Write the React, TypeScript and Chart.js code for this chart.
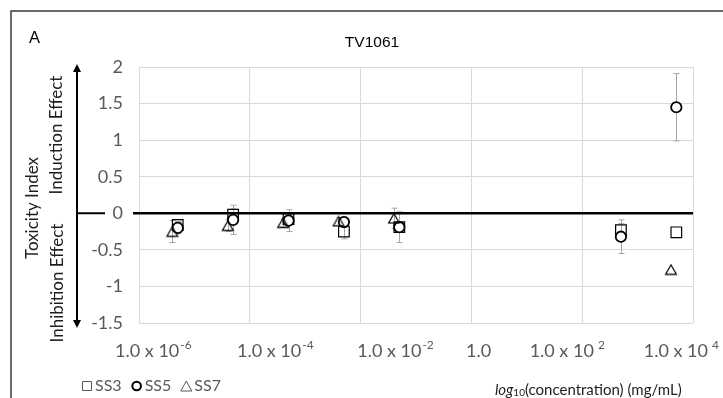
import React, { useEffect, useRef } from "react";
import { Chart, registerables } from "chart.js";

Chart.register(...registerables);

// Concentrations (mg/mL) and toxicity index per sample
const ss3Conc = [5e-6, 5e-5, 5e-4, 5e-3, 5e-2, 5e2, 5e3];
const ss3Index = [-0.16, -0.02, -0.08, -0.25, -0.19, -0.23, -0.26];
const ss3Err = [0.05, 0.08, 0.05, 0.1, 0.05, 0.09, 0];

const ss5Conc = [5e-6, 5e-5, 5e-4, 5e-3, 5e-2, 5e2, 5e3];
const ss5Index = [-0.2, -0.09, -0.1, -0.12, -0.19, -0.32, 1.45];
const ss5Err = [0.08, 0.2, 0.15, 0.07, 0.21, 0.23, 0.46];

const ss7Conc = [4e-6, 4e-5, 4e-4, 4e-3, 4e-2, 4e3];
const ss7Index = [-0.25, -0.17, -0.13, -0.11, -0.07, -0.77];
const ss7Err = [0.15, 0.08, 0.05, 0.05, 0.14, 0];

// x axis (log10 of concentration)
const xMin = -6;
const xMax = 4;
const xStep = 2;
const tickExponents = [-6, -4, -2, 0, 2, 4];
const tickLabelAt = [-5.74, -3.54, -1.37, 0.13, 1.73, 3.79];

// y axis
const yMin = -1.5;
const yMax = 2;
const yStep = 0.5;

const chartTitle = "TV1061";
const panelLetter = "A";
const yTitle = "Toxicity Index";
const upLabel = "Induction Effect";
const downLabel = "Inhibition Effect";
const seriesNames = ["SS3", "SS5", "SS7"];

const LABEL_FONT = "Lato, 'Open Sans', sans-serif";
const TITLE_FONT = "'Liberation Sans', Arial, sans-serif";
const GREY_TEXT = "#595959";
const DARK_TEXT = "#1e1e1e";

function makeTriangle(stroke: string, lw: number): HTMLCanvasElement {
  const c = document.createElement("canvas");
  c.width = 14;
  c.height = 12;
  const g = c.getContext("2d")!;
  g.strokeStyle = stroke;
  g.lineWidth = lw;
  g.lineJoin = "miter";
  g.beginPath();
  g.moveTo(7, 1.3);
  g.lineTo(12.4, 10.7);
  g.lineTo(1.6, 10.7);
  g.closePath();
  g.stroke();
  return c;
}

type Series = { conc: number[]; index: number[]; err: number[] };
const allSeries: Series[] = [
  { conc: ss3Conc, index: ss3Index, err: ss3Err },
  { conc: ss5Conc, index: ss5Index, err: ss5Err },
  { conc: ss7Conc, index: ss7Index, err: ss7Err },
];

const toPoints = (conc: number[], vals: number[]) =>
  conc.map((c, i) => ({ x: Math.log10(c), y: vals[i] }));

function drawPowerLabel(ctx: CanvasRenderingContext2D, cx: number, baseline: number, exp: number) {
  const main = exp === 0 ? "1.0" : "1.0 x 10";
  const sup = exp === 0 ? "" : exp < 0 ? String(exp) : " " + String(exp);
  ctx.font = `18px ${LABEL_FONT}`;
  const wMain = ctx.measureText(main).width;
  ctx.font = `12px ${LABEL_FONT}`;
  const wSup = sup ? ctx.measureText(sup).width + 1 : 0;
  const start = cx - (wMain + wSup) / 2;
  ctx.textAlign = "left";
  ctx.textBaseline = "alphabetic";
  ctx.fillStyle = GREY_TEXT;
  ctx.font = `18px ${LABEL_FONT}`;
  ctx.fillText(main, start, baseline);
  if (sup) {
    ctx.font = `12px ${LABEL_FONT}`;
    ctx.fillText(sup, start + wMain + 1, baseline - 8);
  }
}

const decorPlugin = {
  id: "decor",
  beforeDatasetsDraw(chart: any) {
    const { ctx } = chart;
    const x = chart.scales.x;
    const y = chart.scales.y;
    ctx.save();
    // error bars
    ctx.strokeStyle = "#a6a6a6";
    ctx.lineWidth = 1;
    allSeries.forEach((s) => {
      s.conc.forEach((c, i) => {
        const e = s.err[i];
        if (!e) return;
        const px = Math.round(x.getPixelForValue(Math.log10(c))) + 0.5;
        const top = y.getPixelForValue(s.index[i] + e);
        const bot = y.getPixelForValue(s.index[i] - e);
        ctx.beginPath();
        ctx.moveTo(px, top);
        ctx.lineTo(px, bot);
        ctx.moveTo(px - 3, top);
        ctx.lineTo(px + 3, top);
        ctx.moveTo(px - 3, bot);
        ctx.lineTo(px + 3, bot);
        ctx.stroke();
      });
    });
    // zero axis line
    const y0 = y.getPixelForValue(0);
    ctx.strokeStyle = "#000";
    ctx.lineWidth = 2.5;
    ctx.beginPath();
    ctx.moveTo(x.left - 6, y0);
    ctx.lineTo(x.right, y0);
    ctx.stroke();
    ctx.restore();
  },
  afterDraw(chart: any) {
    const { ctx } = chart;
    const x = chart.scales.x;
    const y = chart.scales.y;
    const W = chart.width;
    const H = chart.height;
    ctx.save();

    // outer frame
    ctx.strokeStyle = "#3a3a3a";
    ctx.lineWidth = 1.5;
    ctx.beginPath();
    ctx.moveTo(11, H);
    ctx.lineTo(11, 11);
    ctx.lineTo(W, 11);
    ctx.stroke();

    // panel letter and title
    ctx.fillStyle = "#000";
    ctx.textBaseline = "alphabetic";
    ctx.font = `16.5px ${TITLE_FONT}`;
    ctx.textAlign = "left";
    ctx.fillText(panelLetter, 29, 43);
    ctx.textAlign = "center";
    ctx.font = `15.5px ${TITLE_FONT}`;
    ctx.fillText(chartTitle, 372, 47);

    // x tick labels
    tickExponents.forEach((exp, i) => {
      drawPowerLabel(ctx, x.getPixelForValue(tickLabelAt[i]), 357, exp);
    });

    // y titles
    const vText = (t: string, cx: number, cy: number) => {
      ctx.save();
      ctx.translate(cx, cy);
      ctx.rotate(-Math.PI / 2);
      ctx.textAlign = "center";
      ctx.textBaseline = "middle";
      ctx.fillText(t, 0, 0);
      ctx.restore();
    };
    ctx.fillStyle = DARK_TEXT;
    ctx.font = `17px ${LABEL_FONT}`;
    vText(yTitle, 33, 208);
    vText(upLabel, 57, 135);
    vText(downLabel, 58, 283);

    // effect arrows
    const ax = 77;
    const yTop = y.getPixelForValue(yMax) - 3;
    const yBot = y.getPixelForValue(yMin) + 5;
    const y0 = y.getPixelForValue(0);
    ctx.strokeStyle = "#000";
    ctx.fillStyle = "#000";
    ctx.lineWidth = 2;
    ctx.beginPath();
    ctx.moveTo(ax, yTop + 6);
    ctx.lineTo(ax, yBot - 6);
    ctx.moveTo(ax, y0);
    ctx.lineTo(105, y0);
    ctx.stroke();
    ctx.beginPath();
    ctx.moveTo(ax, yTop);
    ctx.lineTo(ax - 4, yTop + 8);
    ctx.lineTo(ax + 4, yTop + 8);
    ctx.closePath();
    ctx.fill();
    ctx.beginPath();
    ctx.moveTo(ax, yBot);
    ctx.lineTo(ax - 4, yBot - 8);
    ctx.lineTo(ax + 4, yBot - 8);
    ctx.closePath();
    ctx.fill();

    // legend
    const ly = 386;
    let lx = 82;
    ctx.font = `16px ${LABEL_FONT}`;
    ctx.textAlign = "left";
    ctx.textBaseline = "middle";
    seriesNames.forEach((name, i) => {
      ctx.lineWidth = i === 1 ? 2 : 1;
      ctx.strokeStyle = i === 1 ? "#000" : GREY_TEXT;
      ctx.beginPath();
      if (i === 0) {
        ctx.rect(lx + 0.5, ly - 4.5, 9, 9);
      } else if (i === 1) {
        ctx.arc(lx + 5, ly, 4.3, 0, Math.PI * 2);
      } else {
        ctx.moveTo(lx + 5, ly - 5);
        ctx.lineTo(lx + 10.5, ly + 5);
        ctx.lineTo(lx - 0.5, ly + 5);
        ctx.closePath();
      }
      ctx.stroke();
      ctx.fillStyle = GREY_TEXT;
      ctx.fillText(name, lx + 13, ly);
      lx += 13 + ctx.measureText(name).width + 10;
    });

    // x axis title
    let tx = 495;
    const tb = 395;
    ctx.textBaseline = "alphabetic";
    ctx.fillStyle = DARK_TEXT;
    ctx.font = `italic 15px ${LABEL_FONT}`;
    ctx.fillText("log", tx, tb);
    tx += ctx.measureText("log").width;
    ctx.font = `10px ${LABEL_FONT}`;
    ctx.fillText("10", tx, tb + 1);
    tx += ctx.measureText("10").width;
    ctx.font = `15px ${LABEL_FONT}`;
    ctx.fillText("(concentration) (mg/mL)", tx, tb);

    ctx.restore();
  },
};

export default function App() {
  const canvasRef = useRef<HTMLCanvasElement | null>(null);

  useEffect(() => {
    document.body.style.margin = "0";
    const canvas = canvasRef.current;
    if (!canvas) return;
    const triangle = makeTriangle("#000", 1.2);

    const chart = new Chart(canvas, {
      type: "scatter",
      data: {
        datasets: [
          {
            label: seriesNames[0],
            data: toPoints(ss3Conc, ss3Index),
            pointStyle: "rect",
            pointRadius: 7.5,
            pointHoverRadius: 7.5,
            borderColor: "#000",
            backgroundColor: "rgba(0,0,0,0)",
            borderWidth: 1.2,
            order: 2,
          },
          {
            label: seriesNames[1],
            data: toPoints(ss5Conc, ss5Index),
            pointStyle: "circle",
            pointRadius: 5.2,
            pointHoverRadius: 5.2,
            borderColor: "#000",
            backgroundColor: "#fff",
            borderWidth: 1.8,
            order: 1,
          },
          {
            label: seriesNames[2],
            data: toPoints(ss7Conc, ss7Index),
            pointStyle: triangle as any,
            pointRadius: 6,
            borderColor: "#000",
            backgroundColor: "rgba(0,0,0,0)",
            order: 0,
          },
        ],
      },
      options: {
        animation: false,
        responsive: false,
        devicePixelRatio: 1,
        layout: { padding: { top: 67, right: 30, bottom: 0, left: 0 } },
        plugins: {
          legend: { display: false },
          title: { display: false },
          tooltip: { enabled: false },
        },
        scales: {
          x: {
            type: "linear",
            min: xMin,
            max: xMax,
            ticks: { stepSize: xStep, display: false },
            grid: { color: "#d9d9d9", drawTicks: false, lineWidth: 1 },
            border: { display: false },
            afterFit: (scale: any) => {
              scale.height = 75;
            },
          },
          y: {
            min: yMin,
            max: yMax,
            ticks: {
              stepSize: yStep,
              padding: 16,
              color: GREY_TEXT,
              font: { family: LABEL_FONT, size: 18 },
              callback: (v: any) => String(v),
            },
            grid: { color: "#d9d9d9", drawTicks: false, lineWidth: 1 },
            border: { display: false },
            afterFit: (scale: any) => {
              scale.width = 139;
            },
          },
        },
      },
      plugins: [decorPlugin],
    });
    return () => chart.destroy();
  }, []);

  return (
    <div style={{ width: 723, height: 398, background: "#fff" }}>
      <canvas ref={canvasRef} width={723} height={398} />
    </div>
  );
}
